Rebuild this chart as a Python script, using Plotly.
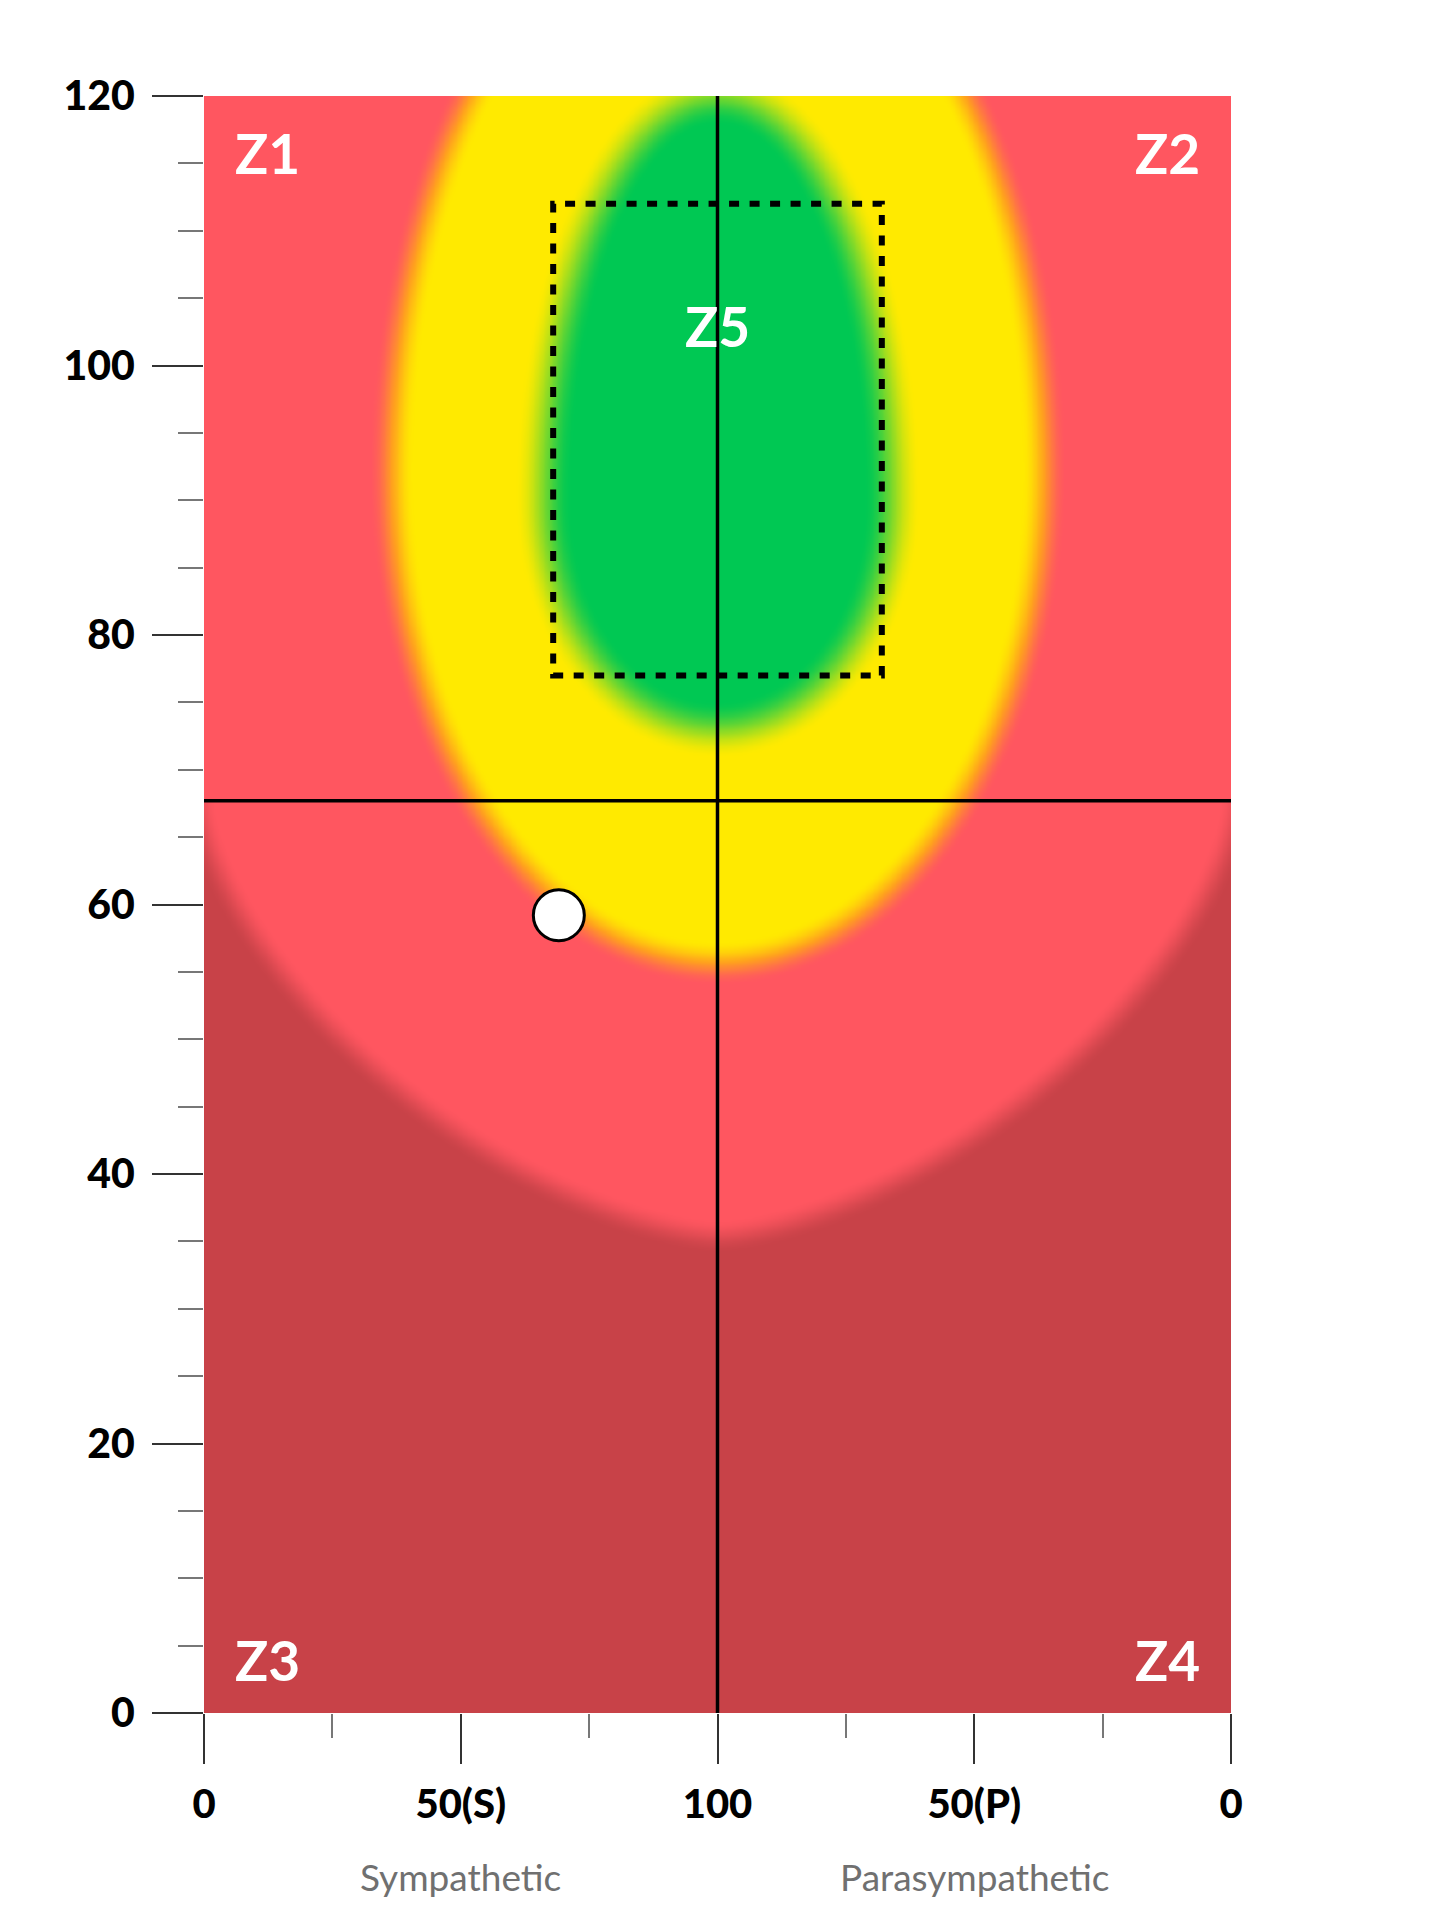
import numpy as np
import plotly.graph_objects as go

# ---------------- data ----------------
x_tickvals = [0, 50, 100, 150, 200]
x_ticktext = ["0", "50(S)", "100", "50(P)", "0"]
x_minor_ticks = [25, 75, 125, 175]
y_tickvals = [0, 20, 40, 60, 80, 100, 120]
axis_titles = ["Sympathetic", "Parasympathetic"]
axis_title_x = [50, 150]

center_x = 100
divider_y = 67.7

# zone boundaries (centre x, centre y) and radii
green_center = [100, 90]
green_radii = [34, 17, 30]          # half-width, below-centre, above-centre
yellow_center = [100, 92]
yellow_radii = [63.5, 36.3, 43]
lower_center = [100, 67.7]
lower_radii = [101, 32.3]
lower_power = 1.55

target_box_x = [68, 132]
target_box_y = [77, 112]

point_x = [69.1]
point_y = [59.2]

zone_labels = ["Z1", "Z2", "Z3", "Z4", "Z5"]
zone_label_x = [12.3, 187.7, 12.3, 187.7, 100]
zone_label_y = [115.8, 115.8, 3.9, 3.9, 102.9]

# colours
dark_red = "rgb(200,66,72)"
light_red = "rgb(255,86,96)"
orange = "rgb(255,160,30)"
yellow = "rgb(255,234,0)"
green = "rgb(0,200,83)"

# ---------------- layout geometry ----------------
W, H = 1442, 1923
M_L, M_T = 196, 88
plot_w, plot_h = 1027, 1617
M_R = W - M_L - plot_w
M_B = H - M_T - plot_h

# ---------------- zone field ----------------
xs = np.linspace(0, 200, 401)
ys = np.linspace(0, 120, 481)
X, Y = np.meshgrid(xs, ys)
ppx = plot_w / 200.0
ppy = plot_h / 120.0


def signed_px(r):
    gy, gx = np.gradient(r, ys, xs)
    g = np.sqrt((gx / ppx) ** 2 + (gy / ppy) ** 2)
    return (r - 1.0) / np.maximum(g, 1e-9)


def inside(d, w):
    t = np.clip(0.5 - d / (2.0 * w), 0, 1)
    return t * t * (3 - 2 * t)


def egg(center, radii):
    a, b_lo, b_up = radii
    b = np.where(Y >= center[1], b_up, b_lo)
    return np.sqrt(((X - center[0]) / a) ** 2 + ((Y - center[1]) / b) ** 2)


r_green = egg(green_center, green_radii)
r_yellow = egg(yellow_center, yellow_radii)
r_lower = (np.abs((X - lower_center[0]) / lower_radii[0]) ** lower_power
           + np.abs((Y - lower_center[1]) / lower_radii[1]) ** lower_power) ** (1.0 / lower_power)

s_green = inside(signed_px(r_green), 28)
s_yellow = inside(signed_px(r_yellow), 22)
s_dark = (1 - inside(signed_px(r_lower), 17)) * (Y < divider_y)

Z = np.round(1 - s_dark + s_yellow + s_green, 3)

fig = go.Figure()
fig.add_trace(go.Heatmap(
    x=xs, y=ys, z=Z, zmin=0, zmax=3, zsmooth="best", showscale=False,
    hoverinfo="skip",
    colorscale=[[0, dark_red], [1 / 3, light_red], [0.5, orange],
                [2 / 3, yellow], [1, green]],
))

# marker
fig.add_trace(go.Scatter(
    x=point_x, y=point_y, mode="markers", hoverinfo="skip", showlegend=False,
    marker=dict(size=51, color="white", line=dict(color="black", width=3)),
))

# divider lines
fig.add_shape(type="line", x0=center_x, x1=center_x, y0=0, y1=120,
              line=dict(color="black", width=3.5))
fig.add_shape(type="line", x0=0, x1=200, y0=divider_y, y1=divider_y,
              line=dict(color="black", width=3.5))
# target box
fig.add_shape(type="rect", x0=target_box_x[0], x1=target_box_x[1],
              y0=target_box_y[0], y1=target_box_y[1],
              line=dict(color="black", width=6, dash="10px,10.5px"))

for t, x, y in zip(zone_labels, zone_label_x, zone_label_y):
    fig.add_annotation(x=x, y=y, text=t, showarrow=False, xanchor="center", yanchor="middle",
                       font=dict(family="Lato", size=55, color="white", weight="bold"))

for t, x in zip(axis_titles, axis_title_x):
    fig.add_annotation(x=x, xref="x", y=-163 / plot_h, yref="paper", text=t, showarrow=False,
                       xanchor="center", yanchor="middle",
                       font=dict(family="Lato", size=37, color="#707070"))

fig.update_xaxes(
    range=[0, 200], tickvals=x_tickvals, ticktext=x_ticktext, ticks="outside",
    ticklen=50, tickwidth=2, tickcolor="#333", showgrid=False, zeroline=False,
    showline=False, ticklabelstandoff=6,
    tickfont=dict(family="Lato", size=40, color="black", weight=900),
    minor=dict(tickvals=x_minor_ticks, ticks="outside", ticklen=24, tickwidth=1.5,
               tickcolor="#777", showgrid=False),
)
fig.update_yaxes(
    range=[0, 120], tickvals=y_tickvals, ticks="outside",
    ticklen=51, tickwidth=2, tickcolor="#333", showgrid=False, zeroline=False,
    showline=False, ticklabelstandoff=9,
    tickfont=dict(family="Lato", size=41, color="black", weight=900),
    minor=dict(dtick=5, ticks="outside", ticklen=25, tickwidth=1.5,
               tickcolor="#777", showgrid=False),
)
fig.update_layout(
    width=W, height=H, margin=dict(l=M_L, r=M_R, t=M_T, b=M_B),
    paper_bgcolor="white", plot_bgcolor="white", showlegend=False,
)
fig.write_html("out.html")
